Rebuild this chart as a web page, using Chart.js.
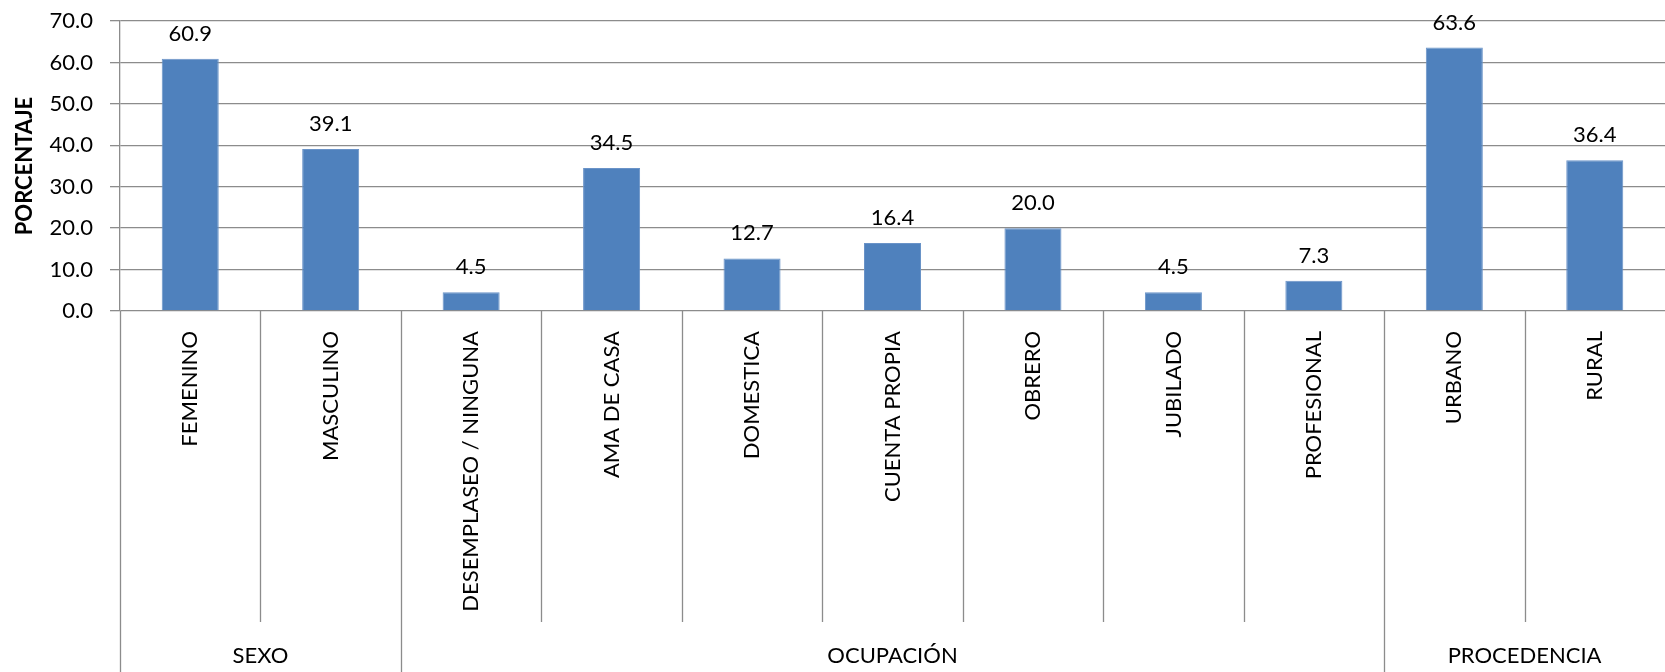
<!DOCTYPE html>
<html>
<head>
<meta charset="utf-8">
<title>Porcentaje por sexo, ocupación y procedencia</title>
<script src="https://cdn.jsdelivr.net/npm/chart.js@4.4.1/dist/chart.umd.min.js"></script>
<style>
  html, body { margin: 0; padding: 0; background: #fff; }
  #wrap { width: 1665px; height: 672px; }
</style>
</head>
<body>
<div id="wrap"><canvas id="chart" width="1665" height="672"></canvas></div>
<script>
const categories = ['FEMENINO', 'MASCULINO', 'DESEMPLASEO / NINGUNA', 'AMA DE CASA', 'DOMESTICA',
  'CUENTA PROPIA', 'OBRERO', 'JUBILADO', 'PROFESIONAL', 'URBANO', 'RURAL']
const percentages = [60.9, 39.1, 4.5, 34.5, 12.7, 16.4, 20.0, 4.5, 7.3, 63.6, 36.4]
// each group covers categories [start, end)
const groupNames = ['SEXO', 'OCUPACIÓN', 'PROCEDENCIA']
const groupStarts = [0, 2, 9]
const groupEnds = [2, 9, 11]
const yTicks = [0, 10, 20, 30, 40, 50, 60, 70]

const FONT = 'Lato'
const GRID = '#8c8c8c'

// value on top of every bar
const barValues = {
  id: 'barValues',
  afterDatasetsDraw(chart) {
    const ctx = chart.ctx
    const meta = chart.getDatasetMeta(0)
    ctx.save()
    ctx.font = `22px ${FONT}`
    ctx.fillStyle = '#000'
    ctx.textAlign = 'center'
    ctx.textBaseline = 'alphabetic'
    meta.data.forEach((bar, i) => {
      ctx.fillText(percentages[i].toFixed(1), bar.x, bar.y - 18)
    })
    ctx.restore()
  }
}

// category separators and group labels under the x axis
const groupAxis = {
  id: 'groupAxis',
  afterDraw(chart) {
    const ctx = chart.ctx
    const x = chart.scales.x
    const area = chart.chartArea
    const n = categories.length
    const edge = i => {
      if (i === 0) return area.left
      if (i === n) return area.right
      return (x.getPixelForValue(i - 1) + x.getPixelForValue(i)) / 2
    }
    const innerBottom = 622
    const outerBottom = chart.height

    ctx.save()
    ctx.strokeStyle = GRID
    ctx.lineWidth = 1.3
    for (let i = 0; i < n; i++) {
      const px = Math.round(edge(i)) + 0.5
      const isGroupEdge = groupStarts.includes(i)
      ctx.beginPath()
      ctx.moveTo(px, area.bottom)
      ctx.lineTo(px, isGroupEdge ? outerBottom : innerBottom)
      ctx.stroke()
    }

    ctx.font = `22px ${FONT}`
    ctx.fillStyle = '#000'
    ctx.textAlign = 'center'
    ctx.textBaseline = 'middle'
    groupNames.forEach((name, g) => {
      const cx = (edge(groupStarts[g]) + edge(groupEnds[g])) / 2
      ctx.fillText(name, cx, 656)
    })
    ctx.restore()
  }
}

new Chart(document.getElementById('chart'), {
  type: 'bar',
  data: {
    labels: categories,
    datasets: [{
      data: percentages,
      backgroundColor: '#4F81BD',
      borderColor: '#6a93c8',
      borderWidth: 1,
      barPercentage: 0.406,
      categoryPercentage: 1
    }]
  },
  options: {
    responsive: false,
    devicePixelRatio: 1,
    animation: false,
    layout: { padding: { top: 21, left: 0, right: 0, bottom: 0 } },
    plugins: {
      legend: { display: false },
      tooltip: { enabled: false }
    },
    scales: {
      x: {
        grid: { display: false, drawTicks: false },
        border: { display: false },
        ticks: {
          autoSkip: false,
          minRotation: 90,
          maxRotation: 90,
          padding: 20,
          color: '#000',
          font: { family: FONT, size: 22 }
        },
        afterFit: scale => {
          scale.height = 361
          scale.paddingLeft = 0
          scale.paddingRight = 0
          scale.paddingTop = 0
          scale.paddingBottom = 0
        }
      },
      y: {
        min: 0,
        max: 70,
        afterBuildTicks: scale => { scale.ticks = yTicks.map(v => ({ value: v })) },
        grid: { color: GRID, lineWidth: 1.3, tickLength: 10 },
        border: { color: GRID, width: 1.3 },
        ticks: {
          padding: 17,
          color: '#000',
          font: { family: FONT, size: 22 },
          callback: v => v.toFixed(1)
        },
        title: {
          display: true,
          text: 'PORCENTAJE',
          color: '#000',
          padding: { top: 12, bottom: 0 },
          font: { family: FONT, size: 22, weight: 'bold' }
        },
        afterFit: scale => {
          scale.width = 120
          scale.paddingTop = 0
          scale.paddingBottom = 0
        }
      }
    }
  },
  plugins: [barValues, groupAxis]
})
</script>
</body>
</html>
